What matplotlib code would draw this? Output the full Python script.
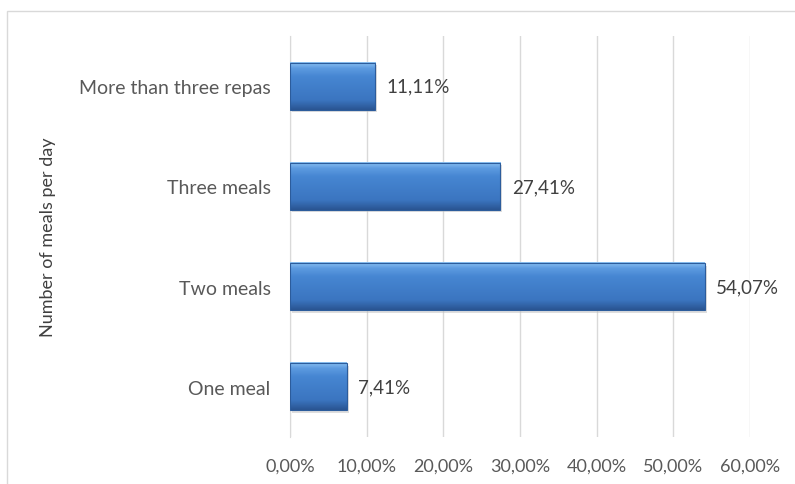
import numpy as np
import matplotlib.pyplot as plt
from matplotlib.patches import Rectangle
from matplotlib.colors import LinearSegmentedColormap

plt.rcParams['font.family'] = ['Lato', 'DejaVu Sans']

categories = ['One meal', 'Two meals', 'Three meals', 'More than three repas']
values = [7.41, 54.07, 27.41, 11.11]
xticks = [0, 10, 20, 30, 40, 50, 60]

fig = plt.figure(figsize=(7.95, 4.85), dpi=100)
# outer chart frame
fig.patches.append(Rectangle((7 / 795, -0.01), 1.0, 1 - 12 / 485 + 0.01,
                             transform=fig.transFigure, fill=False,
                             edgecolor='#d9d9d9', lw=1.0))
ax = fig.add_axes([290 / 795, 1 - 438 / 485, 460 / 795, 401 / 485])

# vertical shading for the bevelled bars (top -> bottom)
bevel = LinearSegmentedColormap.from_list(
    'bevel', [(0.0, '#8cc2f2'), (0.12, '#5d9be0'), (0.3, '#4686d2'),
              (0.8, '#3b75c0'), (1.0, '#2a5592')])
grad = np.linspace(0, 1, 64).reshape(-1, 1)

y = np.arange(len(categories))
h = 0.47
# soft shadow
ax.barh(y - 0.025, values, height=h, left=0.3, color='#bfbfbf', alpha=0.5,
        lw=0, zorder=2)
for yi, v in zip(y, values):
    ax.imshow(grad, cmap=bevel, aspect='auto', origin='upper',
              extent=[0, v, yi - h / 2, yi + h / 2], zorder=3)
ax.barh(y, values, height=h, fill=False, edgecolor='#2c5c9c', lw=0.8, zorder=4)

for yi, v in zip(y, values):
    ax.text(v + 1.5, yi, f'{v:.2f}%'.replace('.', ','), va='center', ha='left',
            fontsize=13.5, color='#404040')

ax.set_xlim(0, 60)
ax.set_ylim(-0.5, len(categories) - 0.5)
ax.set_xticks(xticks)
ax.set_xticklabels([f'{t:.2f}%'.replace('.', ',') for t in xticks],
                   fontsize=13, color='#595959')
ax.set_yticks(y)
ax.set_yticklabels(categories, fontsize=14, color='#595959')
ax.tick_params(axis='both', length=0)
ax.tick_params(axis='x', pad=15)
ax.tick_params(axis='y', pad=14)
ax.grid(axis='x', color='#d9d9d9', lw=1.0, zorder=0)
ax.set_axisbelow(True)
for s in ['top', 'right', 'bottom']:
    ax.spines[s].set_visible(False)
ax.spines['left'].set_color('#d9d9d9')
ax.set_ylabel('Number of meals per day', fontsize=13, color='#404040')
ax.yaxis.set_label_coords(-234 / 460, 0.5)

plt.savefig('out.png', dpi=100)
